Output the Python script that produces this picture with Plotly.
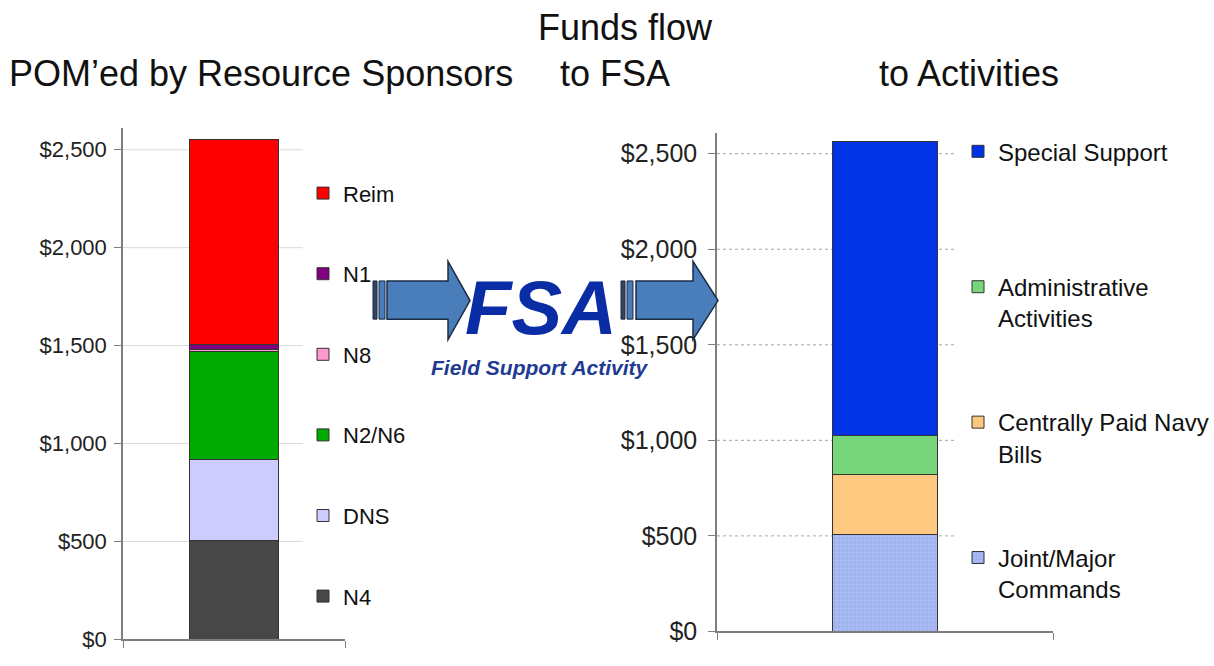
import plotly.graph_objects as go

W, H = 1214, 666

# ---------------- data ----------------
categories = ["FY Budget"]
tick_values = [0, 500, 1000, 1500, 2000, 2500]
tick_labels = ["$0", "$500", "$1,000", "$1,500", "$2,000", "$2,500"]

left_series = ["N4", "DNS", "N2/N6", "N8", "N1", "Reim"]
left_values = [505, 415, 548, 14, 25, 1046]
left_colors = ["#474747", "#CCCCFF", "#00AA00", "#FF99CC", "#800080", "#FF0000"]

right_series = ["Joint/Major<br>Commands", "Centrally Paid Navy<br>Bills",
                "Administrative<br>Activities", "Special Support<br> "]
right_values = [505, 314, 204, 1539]
right_colors = ["#A9BBF2", "#FFC880", "#78D67A", "#0033E6"]

FONT = "Liberation Sans, Arial, sans-serif"


def fx(p):
    return p / W


def fy(p):
    return 1 - p / H


fig = go.Figure()

nL = len(left_series)
for i, (name, val, col) in enumerate(zip(left_series, left_values, left_colors)):
    fig.add_trace(go.Bar(
        x=categories, y=[val], name=name, xaxis="x", yaxis="y",
        marker=dict(color=col, line=dict(color="#333333", width=1)),
        width=0.40, legend="legend", legendgroup="L%d" % i,
        legendrank=nL - i,
    ))

nR = len(right_series)
for i, (name, val, col) in enumerate(zip(right_series, right_values, right_colors)):
    marker = dict(color=col, line=dict(color="#333333", width=1))
    if i == 0:
        marker["pattern"] = dict(shape=".", fgcolor="#8A9FE6", bgcolor=col,
                                 size=4, solidity=0.35)
    fig.add_trace(go.Bar(
        x=categories, y=[val], name=name, xaxis="x2", yaxis="y2",
        marker=marker, width=0.31, legend="legend2", legendgroup="R%d" % i,
        legendrank=nR - i,
    ))

axis_common = dict(
    showgrid=False, zeroline=False, showline=True, linecolor="#7F7F7F",
    linewidth=1.5, ticks="outside", tickcolor="#7F7F7F", ticklen=7,
)

fig.update_layout(
    width=W, height=H, barmode="stack",
    margin=dict(l=0, r=0, t=0, b=0),
    paper_bgcolor="white", plot_bgcolor="white",
    font=dict(family=FONT, color="#1A1A1A"),
    xaxis=dict(domain=[fx(123), fx(345)], anchor="y", showticklabels=False,
               tickson="boundaries", range=[-0.5, 0.5], **axis_common),
    yaxis=dict(domain=[13 / H, 1 - 131 / H], anchor="x", range=[0, 2610],
               tickvals=tick_values, ticktext=tick_labels, ticklabelstandoff=3,
               tickfont=dict(size=22, color="#222222"), **axis_common),
    xaxis2=dict(domain=[fx(717), fx(1053)], anchor="y2", showticklabels=False,
                tickson="boundaries", range=[-0.5, 0.5], **axis_common),
    yaxis2=dict(domain=[21 / H, 1 - 135.5 / H], anchor="x2", range=[0, 2610],
                tickvals=tick_values, ticktext=tick_labels, ticklabelstandoff=6,
                tickfont=dict(size=25, color="#222222"), **axis_common),
    legend=dict(x=fx(303), y=fy(176), xanchor="left", yanchor="top",
                traceorder="grouped", tracegroupgap=49,
                font=dict(size=22, color="#111111"), bgcolor="rgba(0,0,0,0)",
                itemwidth=30),
    legend2=dict(x=fx(958), y=fy(132), xanchor="left", yanchor="top",
                 traceorder="grouped", tracegroupgap=70, valign="top",
                 font=dict(size=24, color="#111111"), bgcolor="rgba(0,0,0,0)",
                 itemwidth=30),
)

# gridlines (left solid light gray, right dotted)
for v in tick_values[1:]:
    fig.add_shape(type="line", xref="x domain", yref="y", x0=0, x1=0.81,
                  y0=v, y1=v, line=dict(color="#D9D9D9", width=1), layer="below")
    fig.add_shape(type="line", xref="x2 domain", yref="y2", x0=0, x1=0.714,
                  y0=v, y1=v, line=dict(color="#A6A6A6", width=1, dash="dot"),
                  layer="below")


# arrows
def arrow(x_dark, x_strip, x_body, x_head, x_tip, y_top=287, y_bot=326,
          h_top=267, h_bot=347):
    ymid = (h_top + h_bot) / 2
    fig.add_shape(type="rect", xref="paper", yref="paper",
                  x0=fx(x_dark), x1=fx(x_dark + 4), y0=fy(y_bot), y1=fy(y_top),
                  fillcolor="#34435E", line=dict(color="#1C2B45", width=1))
    fig.add_shape(type="rect", xref="paper", yref="paper",
                  x0=fx(x_strip), x1=fx(x_strip + 6), y0=fy(y_bot), y1=fy(y_top),
                  fillcolor="#4A7EBB", line=dict(color="#1C2B45", width=1))
    pts = [(x_body, y_top), (x_head, y_top), (x_head, h_top), (x_tip, ymid),
           (x_head, h_bot), (x_head, y_bot), (x_body, y_bot)]
    path = "M " + " L ".join("%.5f,%.5f" % (fx(a), fy(b)) for a, b in pts) + " Z"
    fig.add_shape(type="path", xref="paper", yref="paper", path=path,
                  fillcolor="#4A7EBB", line=dict(color="#1C2B45", width=1.5))


arrow(373, 379, 387, 448, 470)
arrow(621, 627, 636, 693, 718)

# titles
titles = [
    ("POM\u2019ed by Resource Sponsors", 261, 75),
    ("Funds flow", 625, 28),
    ("to FSA", 615, 75),
    ("to Activities", 969, 75),
]
for txt, x, y in titles:
    fig.add_annotation(text=txt, x=fx(x), y=fy(y), xref="paper", yref="paper",
                       showarrow=False, xanchor="center", yanchor="middle",
                       font=dict(size=36, family=FONT, color="#111111"))

fig.add_annotation(text="FSA", x=fx(541), y=fy(314), xref="paper", yref="paper",
                   showarrow=False, xanchor="center", yanchor="middle",
                   font=dict(size=76, color="#0A2DA6", weight="bold", style="italic",
                             family=FONT))
fig.add_annotation(text="Field Support Activity", x=fx(540), y=fy(375),
                   xref="paper", yref="paper", showarrow=False,
                   xanchor="center", yanchor="middle",
                   font=dict(size=21, color="#1F3A93", weight="bold", style="italic",
                             family=FONT))

fig.write_html("out.html", config={"displayModeBar": False},
               post_script="document.body.style.margin='0';"
                           "document.body.style.overflow='hidden';")
